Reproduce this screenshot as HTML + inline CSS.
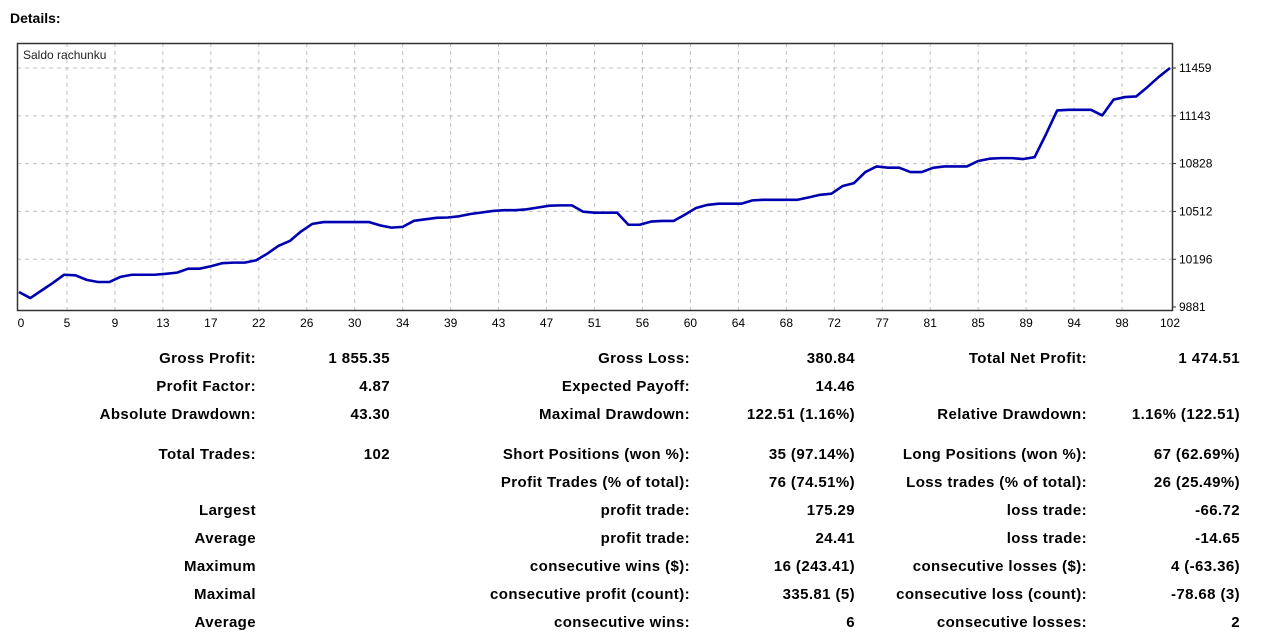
<!DOCTYPE html>
<html><head><meta charset="utf-8"><style>
body{margin:0;background:#fff;width:1271px;height:634px;overflow:hidden;font-family:"Liberation Sans",sans-serif;}
#title{position:absolute;left:10px;top:10px;font-weight:bold;font-size:14px;}
.t{position:absolute;font-weight:bold;font-size:15px;letter-spacing:0.4px;white-space:nowrap;text-align:right;}
</style></head><body>
<div id="title">Details:</div>
<svg id="chart" width="1271" height="340" style="position:absolute;left:0;top:0"></svg>
<div id="stats"></div>
<script>
const values=[9980,9940,9990,10040,10094,10090,10060,10046,10046,10080,10094,10094,10094,10100,10108,10134,10134,10150,10170,10174,10174,10189,10233,10285,10317,10380,10430,10442,10442,10442,10442,10442,10420,10405,10410,10450,10460,10470,10472,10480,10495,10505,10515,10520,10520,10526,10538,10550,10552,10552,10510,10504,10504,10504,10424,10424,10445,10449,10449,10490,10535,10555,10563,10563,10563,10585,10589,10589,10589,10589,10605,10622,10629,10680,10699,10772,10809,10801,10801,10772,10772,10800,10809,10809,10809,10845,10860,10864,10864,10858,10870,11020,11179,11183,11183,11183,11146,11250,11267,11271,11333,11400,11459];
const xTickLabels=["0","5","9","13","17","22","26","30","34","39","43","47","51","56","60","64","68","72","77","81","85","89","94","98","102"];
const yTicks=[9881,10196,10512,10828,11143,11459];
const L=17,R=1172,T=43,B=310;
function xs(i){return 19+i*(1170-19)/102;}
function ys(v){return 307-(v-9881)/(11459-9881)*(307-68);}
const svg=document.getElementById('chart');
const NS='http://www.w3.org/2000/svg';
function mk(tag,a){const e=document.createElementNS(NS,tag);for(const k in a)e.setAttribute(k,a[k]);svg.appendChild(e);return e;}
const step=102/(xTickLabels.length-1);
xTickLabels.forEach((lab,k)=>{const x=xs(k*step);
 if(k>0&&k<xTickLabels.length-1){const g=mk('line',{x1:x,x2:x,y1:T,y2:B,stroke:'#c0c0c0','stroke-dasharray':'4,4'});
 
 }
 const t=mk('text',{x:x+(k==0?2:0),y:327,'text-anchor':'middle','font-size':'12',fill:'#000'});t.textContent=lab;
 
 
});
yTicks.forEach(v=>{const y=ys(v);
 if(v>9881){const g=mk('line',{x1:L,x2:R,y1:y,y2:y,stroke:'#c0c0c0','stroke-dasharray':'4,4'});
 
 }
 mk('line',{x1:R,x2:R+4,y1:y,y2:y,stroke:'#333'});
 const t=mk('text',{x:1179,y:y+4,'font-size':'12',fill:'#000'});t.textContent=v;
 
 
});
const fr=mk('rect',{x:L+.5,y:T+.5,width:R-L,height:B-T,fill:'none',stroke:'#333','stroke-width':'1.5'});


const ct=mk('text',{x:23,y:59,'font-size':'12',fill:'#222'});ct.textContent='Saldo rachunku';


const pl=mk('polyline',{points:values.map((v,i)=>xs(i)+','+ys(v)).join(' '),fill:'none',stroke:'#0000b0','stroke-width':'2.6','stroke-linejoin':'round'});



const rows=[
[357,"Gross Profit:","1 855.35","Gross Loss:","380.84","Total Net Profit:","1 474.51"],
[385,"Profit Factor:","4.87","Expected Payoff:","14.46","",""],
[413,"Absolute Drawdown:","43.30","Maximal Drawdown:","122.51 (1.16%)","Relative Drawdown:","1.16% (122.51)"],
[453,"Total Trades:","102","Short Positions (won %):","35 (97.14%)","Long Positions (won %):","67 (62.69%)"],
[481,"","","Profit Trades (% of total):","76 (74.51%)","Loss trades (% of total):","26 (25.49%)"],
[509,"Largest","","profit trade:","175.29","loss trade:","-66.72"],
[537,"Average","","profit trade:","24.41","loss trade:","-14.65"],
[565,"Maximum","","consecutive wins ($):","16 (243.41)","consecutive losses ($):","4 (-63.36)"],
[593,"Maximal","","consecutive profit (count):","335.81 (5)","consecutive loss (count):","-78.68 (3)"],
[621,"Average","","consecutive wins:","6","consecutive losses:","2"]];
const rights=[256,390,690,855,1087,1240];
const st=document.getElementById('stats');
rows.forEach(r=>{for(let c=0;c<6;c++){if(!r[c+1])continue;
 const d=document.createElement('div');d.className='t';d.textContent=r[c+1];
 d.style.right=(1271-rights[c])+'px';d.style.top=(r[0]-7)+'px';
 
 
 st.appendChild(d);}});
</script>
</body></html>
